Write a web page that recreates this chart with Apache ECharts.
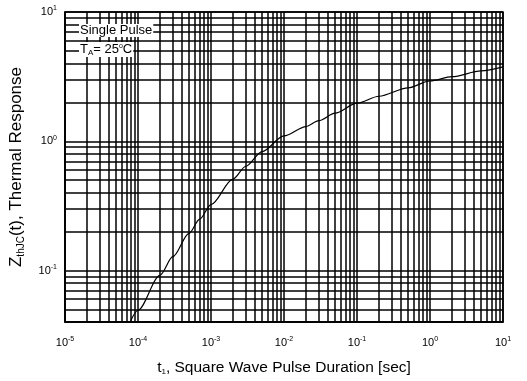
<!DOCTYPE html>
<html><head><meta charset="utf-8">
<script src="https://cdn.jsdelivr.net/npm/echarts@6/dist/echarts.min.js"></script>
<style>html,body{margin:0;padding:0;background:#fff}#c{width:527px;height:381px}</style>
</head><body><div id="c"></div>
<script>
// Curve data (pulse duration [s], thermal response)
const pulseDuration = [7.8e-5, 1e-4, 2e-4, 3e-4, 5e-4, 7e-4, 1e-3, 2e-3, 3e-3, 5e-3, 1e-2, 2e-2, 3e-2, 5e-2, 0.1, 0.2, 0.5, 1, 2, 5, 10];
const thermalResponse = [0.04, 0.0493, 0.092, 0.128, 0.194, 0.25, 0.324, 0.51, 0.641, 0.832, 1.10, 1.30, 1.445, 1.65, 1.97, 2.23, 2.59, 2.93, 3.16, 3.5, 3.76];
// Axis ranges and decade ticks
const xDecades = [1e-5, 1e-4, 1e-3, 1e-2, 1e-1, 1, 10];
const yDecades = [0.01, 0.1, 1, 10];
const minorMultipliers = [2, 3, 4, 5, 6, 7, 8, 9];
const xMin = 1e-5, xMax = 10, yMin = 0.04, yMax = 10;

const xMinor = [], yMinor = [];
xDecades.forEach(d => minorMultipliers.forEach(m => { const v = d * m; if (v > xMin && v < xMax) xMinor.push(v); }));
yDecades.forEach(d => minorMultipliers.forEach(m => { const v = d * m; if (v > yMin && v < yMax) yMinor.push(v); }));

const FONT = 'Liberation Sans';
function powLabel(v) {
  const e = Math.round(Math.log10(v));
  if (Math.abs(Math.log10(v) - e) > 1e-6) return '';
  return '{b|10}{s|' + e + '}';
}
const richPow = {
  b: { fontSize: 11, fontFamily: FONT, color: '#000' },
  s: { fontSize: 7, fontFamily: FONT, color: '#000', padding: [0, 0, 7, 0] }
};
const LW = 1.5;
const lineStyle = { color: '#000', width: LW };

const gridLines = xMinor.map(v => ({ coords: [[v, yMin], [v, yMax]] }))
  .concat(yMinor.map(v => ({ coords: [[xMin, v], [xMax, v]] })));

const chart = echarts.init(document.getElementById('c'));
chart.setOption({
  animation: false,
  backgroundColor: '#fff',
  grid: { left: 64, right: 24, top: 12, bottom: 56, show: true, borderColor: '#000', borderWidth: LW },
  xAxis: {
    type: 'log', logBase: 10, min: xMin, max: xMax,
    axisLine: { show: true, lineStyle: lineStyle },
    axisTick: { show: false },
    splitLine: { show: true, lineStyle: lineStyle },
    axisLabel: { formatter: powLabel, rich: richPow, margin: 14 },
    name: '{b|t}{sub|1}{b|, Square Wave Pulse Duration [sec]}',
    nameLocation: 'middle', nameGap: 38,
    nameTextStyle: { rich: { b: { fontSize: 15.5, fontFamily: FONT, color: '#000' }, sub: { fontSize: 8, fontFamily: FONT, color: '#000', padding: [8, 0, 0, 0] } } }
  },
  yAxis: {
    type: 'log', logBase: 10, min: yMin, max: yMax,
    axisLine: { show: true, lineStyle: lineStyle },
    axisTick: { show: false },
    splitLine: { show: true, lineStyle: lineStyle },
    axisLabel: { formatter: powLabel, rich: richPow, margin: 8, showMinLabel: false },
    name: '{b|Z}{sub|thJC}{b|(t), Thermal Response}',
    nameLocation: 'middle', nameGap: 39,
    nameTextStyle: { rich: { b: { fontSize: 17, fontFamily: FONT, color: '#000' }, sub: { fontSize: 10, fontFamily: FONT, color: '#000', padding: [9, 0, 0, 0] } } }
  },
  series: [
    {
      type: 'lines', coordinateSystem: 'cartesian2d', silent: true, z: 1,
      lineStyle: { color: '#000', width: LW, opacity: 1 },
      data: gridLines
    },
    {
      type: 'line', smooth: 0.3, smoothMonotone: 'x', showSymbol: false, z: 3,
      data: pulseDuration.map((x, i) => [x, thermalResponse[i]]),
      lineStyle: { color: '#000', width: 1.2 }
    }
  ],
  graphic: [
    { type: 'text', left: 79, top: 24, z: 100, style: { text: 'Single Pulse', font: '13px "Liberation Sans"', fill: '#000', backgroundColor: '#fff', padding: [0, 1, 0, 1] } },
    { type: 'text', left: 79, top: 42, z: 100, style: {
      text: 'T{sub|A}= 25{sup|o}C', font: '13px "Liberation Sans"', fill: '#000', backgroundColor: '#fff', padding: [0, 1, 0, 1],
      rich: { sub: { fontSize: 8, fontFamily: FONT, fill: '#000', padding: [7, 0, 0, 0] }, sup: { fontSize: 7, fontFamily: FONT, fill: '#000', padding: [0, 0, 6, 0] } }
    } }
  ]
});
</script></body></html>
